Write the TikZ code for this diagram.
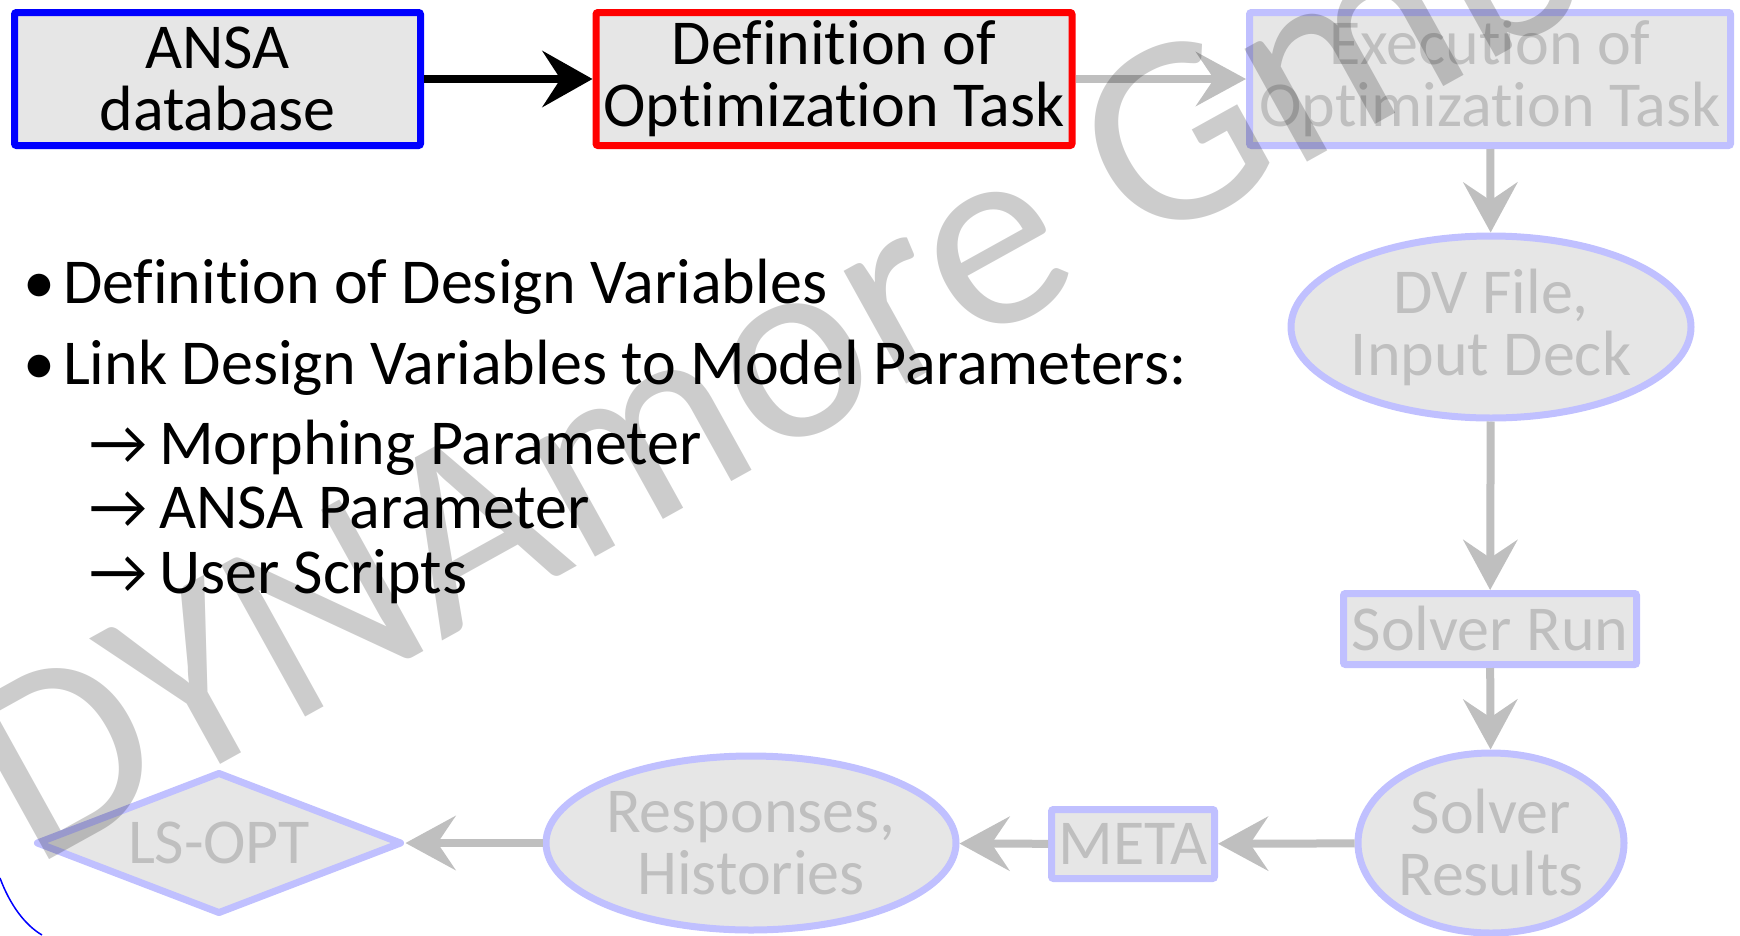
\documentclass[tikz,border=0pt]{standalone}
\usepackage{fontspec}
\setmainfont{Carlito}[Ligatures=NoCommon]
\usetikzlibrary{shapes,arrows.meta}
\usetikzlibrary{shapes.geometric}

\definecolor{boxgray}{HTML}{E6E6E6}
\definecolor{fadegray}{HTML}{BFBFBF}
\definecolor{fadeblue}{HTML}{C0C0FF}

\begin{document}
\begin{tikzpicture}
[x=1pt, y=-1pt,
font=\fontsize{64}{62}\selectfont,
block/.style ={rectangle, draw=fadeblue, line width=7pt, fill=boxgray,
text=fadegray, align=center, inner sep=0pt, rounded corners=2pt},
oval/.style ={ellipse, draw=fadeblue, line width=7pt, fill=boxgray,
text=fadegray, align=center, inner sep=0pt},
decision/.style ={diamond, aspect=2.58, draw=fadeblue, line width=7pt,
fill=boxgray, text=fadegray, inner sep=0pt, line join=round},
flow/.style ={draw=fadegray, line width=8pt,
-{Stealth[length=50pt,width=54pt,inset=18pt]}},
item/.style ={anchor=base west, inner sep=0pt}]

\useasboundingbox (0,0) rectangle (1740,935);
\clip (0,0) rectangle (1740,935);

% row 1
\node (ansa) [block, draw=blue, text=black, minimum width=406pt,
minimum height=133pt] at (217.5,79) {ANSA\\database};
\node (define) [block, draw=red, text=black, minimum width=476pt,
minimum height=133pt] at (834,79) {Definition of\\Optimization Task};
\node (execute) [block, minimum width=481pt,
minimum height=133pt] at (1490,79) {Execution of\\Optimization Task};

% right column
\node (dvfile) [oval, minimum width=400pt, minimum height=182pt]
at (1491,327) {DV File,\\Input Deck};
\node (solver) [block, minimum width=293pt, minimum height=71pt]
at (1490,629) {Solver Run};
\node (results) [oval, inner xsep=-25pt, minimum width=266pt,
minimum height=180pt] at (1491,843) {Solver\\Results};

% bottom row
\node (meta) [block, minimum width=163pt, minimum height=69pt]
at (1133,844) {META};
\node (resp) [oval, minimum width=410pt, minimum height=174pt]
at (751,843) {Responses,\\Histories};
\node (lsopt) [decision, minimum width=366pt, minimum height=142pt]
at (219,843) {LS-OPT};

% bullet list
\node (item1) [item] at (23,303) {•\hspace{8pt}Definition of Design Variables};
\node (item2) [item] at (23,384) {•\hspace{8pt}Link Design Variables to Model Parameters:};
\node (sub1) [item] at (89,464) {\makebox[70pt][l]{→}Morphing Parameter};
\node (sub2) [item] at (89,528) {\makebox[70pt][l]{→}ANSA Parameter};
\node (sub3) [item] at (89,593) {\makebox[70pt][l]{→}User Scripts};

\draw[line width=8pt, -{Stealth[length=50pt,width=56pt,inset=18pt]}]
(ansa) -- (define);
\draw[flow] (define) -- (execute);
\draw[flow] (execute) -- (dvfile);
\draw[flow] (dvfile) -- (solver);
\draw[flow] (solver) -- (results);
\draw[flow] (results) -- (meta);
\draw[flow] (meta) -- (resp);
\draw[flow] (resp) -- (lsopt);

% watermark
\node (mark) [rotate=29, anchor=base west, text=black, opacity=0.2,
font=\fontsize{270}{270}\selectfont] at (30,870) {DYNAmore GmbH};
\draw[blue, line width=1.5pt] (0,878) .. controls (10,905) and (25,925) .. (42,935);
\end{tikzpicture}
\end{document}
